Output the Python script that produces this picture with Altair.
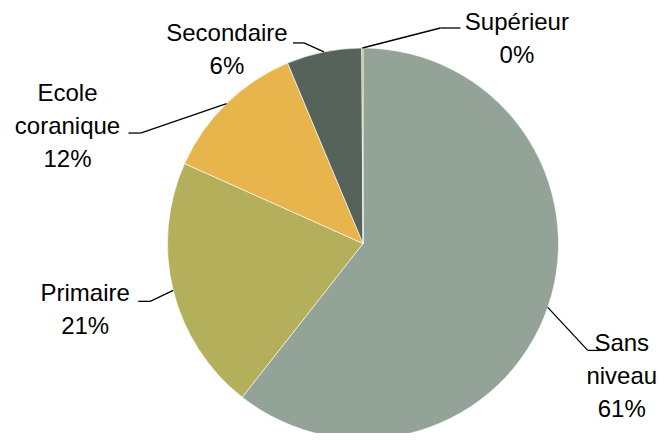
import altair as alt
import pandas as pd

# ---- data ----
categories = ["Sans niveau", "Primaire", "Ecole coranique", "Secondaire", "Supérieur"]
values = [60.6, 21.1, 12.0, 6.2, 0.1]
label_lines = ["Sans|niveau", "Primaire", "Ecole|coranique", "Secondaire", "Supérieur"]
colors = ["#93A398", "#B4AF5A", "#E8B54C", "#56635A", "#B8A040"]

# ---- label layout (Excel-style leader lines; pixel offsets) ----
elbow_dx = [40, -23, -86, -20, 78]
elbow_dy = [43, 11, 29.5, -9, -20]
tail_len = [12, -12, -12, -11, 20]
text_dx = [22, -53, -61, -66, 56.5]
text_dy = [27, 9, -6.5, 8, 11]

CX, CY, R = 355, 235.5, 195.5
W, H = 650, 425
LH = 33

df = pd.DataFrame({
    "idx": list(range(len(categories))),
    "category": categories,
    "value": values,
    "lines": label_lines,
    "elbow_dx": elbow_dx,
    "elbow_dy": elbow_dy,
    "tail": tail_len,
    "text_dx": text_dx,
    "text_dy": text_dy,
})

pie = alt.Chart(df).mark_arc(outerRadius=R, stroke="white", strokeWidth=0.6).encode(
    theta=alt.Theta("value:Q", stack=True),
    color=alt.Color("category:N", scale=alt.Scale(domain=categories, range=colors), legend=None),
    order=alt.Order("idx:Q"),
    x=alt.value(CX),
    y=alt.value(CY),
)

base = alt.Chart(df).transform_joinaggregate(
    total="sum(value)"
).transform_window(
    cum="sum(value)", sort=[alt.SortField("idx")], frame=[None, 0]
).transform_calculate(
    mid="2*PI*(datum.cum - datum.value/2)/datum.total",
).transform_calculate(
    ex=f"{CX} + {R}*sin(datum.mid)",
    ey=f"{CY} - {R}*cos(datum.mid)",
).transform_calculate(
    bx="datum.ex + datum.elbow_dx",
    by="datum.ey + datum.elbow_dy",
).transform_calculate(
    txt="split(datum.lines + '|' + format(datum.value/datum.total, '.0%'), '|')",
).transform_calculate(
    tx="datum.bx + datum.tail",
    lx="datum.bx + datum.tail + datum.text_dx",
    ly=f"datum.by + datum.text_dy - (length(datum.txt) - 1) * {LH} / 2",
)

leader1 = base.mark_rule(color="black", strokeWidth=1.3).encode(
    x=alt.X("ex:Q", scale=None, axis=None),
    y=alt.Y("ey:Q", scale=None, axis=None),
    x2="bx:Q",
    y2="by:Q",
)
leader2 = base.mark_rule(color="black", strokeWidth=1.3).encode(
    x=alt.X("bx:Q", scale=None, axis=None),
    y=alt.Y("by:Q", scale=None, axis=None),
    x2="tx:Q",
    y2="by:Q",
)
labels = base.mark_text(
    font="Liberation Sans", fontSize=24, lineHeight=LH, align="center",
    baseline="middle", color="black",
).encode(
    x=alt.X("lx:Q", scale=None, axis=None),
    y=alt.Y("ly:Q", scale=None, axis=None),
    text=alt.Text("txt:N"),
)

chart = alt.layer(pie, leader1, leader2, labels).properties(
    width=W, height=H, padding=0, autosize=alt.AutoSizeParams(type="none"),
).configure_view(stroke=None)

chart.save("out.html", embed_options={"renderer": "svg", "actions": False})
